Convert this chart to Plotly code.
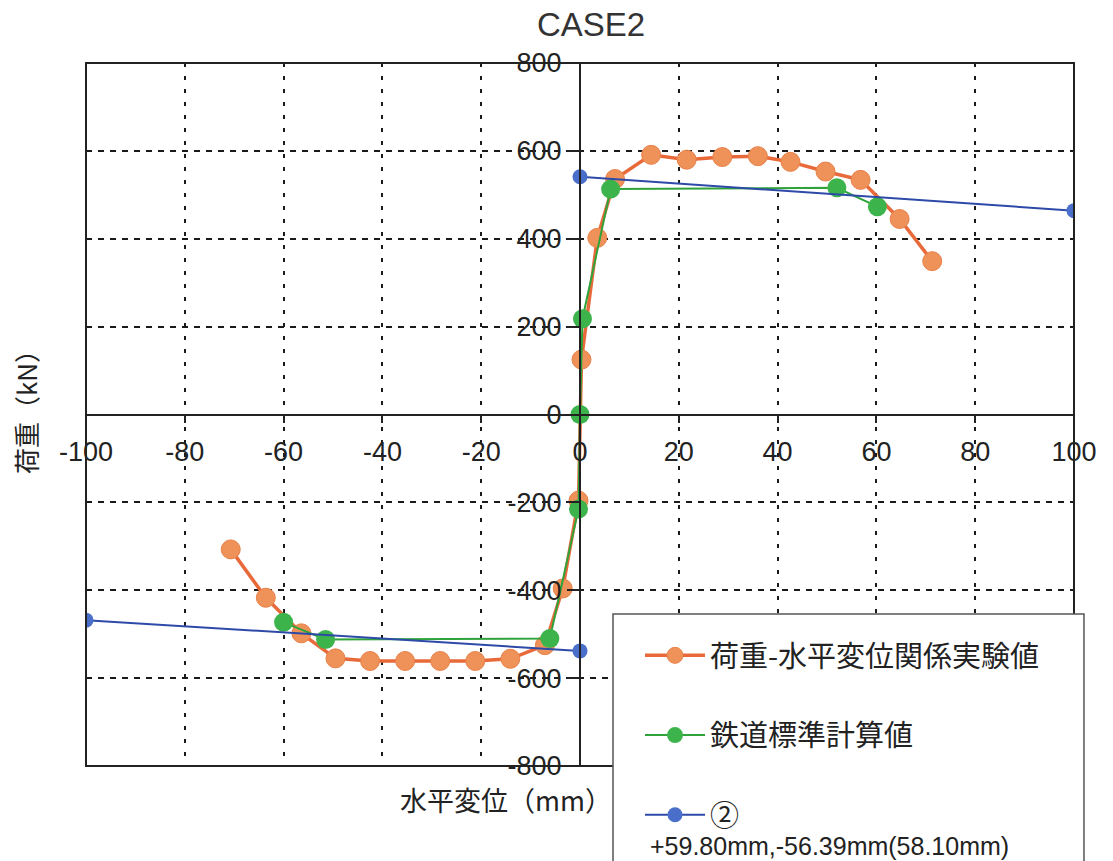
import plotly.graph_objects as go

# Horizontal displacement (mm) vs load (kN)
exp_x = [-70.7, -63.6, -56.4, -49.5, -42.5, -35.4, -28.3, -21.2, -14.1, -7.1, -3.5, -0.3,
         0.3, 3.5, 7.1, 14.4, 21.6, 28.8, 36.0, 42.6, 49.7, 56.8, 64.7, 71.3]
exp_y = [-307, -417, -498, -555, -561, -561, -561, -561, -556, -525, -396, -196,
         125, 402, 536, 591, 580, 586, 588, 575, 553, 534, 445, 349]

rail_x = [-60.0, -51.5, -6.1, -0.3, 0.0, 0.5, 6.2, 52.0, 60.2]
rail_y = [-473, -512, -510, -215, 0, 218, 513, 516, 473]

case_x = [-100, 0, None, 0, 100]
case_y = [-468, -538, None, 541, 464]

x_ticks = [-100, -80, -60, -40, -20, 0, 20, 40, 60, 80, 100]
y_ticks = [-800, -600, -400, -200, 0, 200, 400, 600, 800]

name_exp = "荷重-水平変位関係実験値"
name_rail = "鉄道標準計算値"
name_case = "②"
case_note = "+59.80mm,-56.39mm(58.10mm)"

CJK = "Noto Sans CJK JP"
SANS = "Liberation Sans"
INK = "#222222"

fig = go.Figure()
fig.add_trace(go.Scatter(
    x=exp_x, y=exp_y, mode="lines+markers", name=name_exp, legendgroup="a",
    line=dict(color="#E8693A", width=3.5),
    marker=dict(color="#EF9259", size=19, line=dict(color="#E88148", width=1)),
))
fig.add_trace(go.Scatter(
    x=rail_x, y=rail_y, mode="lines+markers", name=name_rail, legendgroup="b",
    line=dict(color="#2FA33A", width=2),
    marker=dict(color="#3DB34C", size=19),
))
fig.add_trace(go.Scatter(
    x=case_x, y=case_y, mode="lines+markers", name=name_case, legendgroup="c",
    line=dict(color="#2D4AA8", width=2),
    marker=dict(color="#4A6FCB", size=15),
    connectgaps=False,
))

fig.update_xaxes(
    range=[-100, 100], tickvals=x_ticks, ticktext=[str(v) for v in x_ticks],
    anchor="free", position=0.5, showline=True, linecolor=INK, linewidth=2,
    ticks="outside", ticklen=7, tickwidth=2, tickcolor=INK,
    ticklabelstandoff=6,
    tickfont=dict(family=SANS, size=27, color=INK),
    showgrid=True, gridcolor="#1a1a1a", gridwidth=2, griddash="4px,9px",
    zeroline=False,
)
fig.update_yaxes(
    range=[-800, 800], tickvals=y_ticks, ticktext=[str(v) for v in y_ticks],
    anchor="free", position=0.5, showline=True, linecolor=INK, linewidth=2,
    ticks="outside", ticklen=12, tickwidth=2, tickcolor=INK,
    tickfont=dict(family=SANS, size=27, color=INK),
    showgrid=True, gridcolor="#1a1a1a", gridwidth=2, griddash="6px,6px",
    zeroline=False,
)

shapes = [
    # plot frame
    dict(type="rect", xref="paper", yref="paper", x0=0, x1=1, y0=0, y1=1,
         line=dict(color=INK, width=2), layer="above"),
    # legend panel
    dict(type="rect", xref="paper", yref="paper", x0=0.5334, x1=1.0101, y0=-0.16, y1=0.2162,
         fillcolor="white", line=dict(color="#555555", width=1.5), layer="above"),
]

annotations = [
    dict(text="水平変位（mm）", xref="paper", yref="paper", x=(506 - 86) / 988, y=-0.048,
         xanchor="center", yanchor="middle", showarrow=False,
         font=dict(family=CJK, size=27, color=INK)),
    dict(text="荷重（kN）", xref="paper", yref="paper", x=-0.061, y=0.513,
         xanchor="center", yanchor="middle", textangle=-90, showarrow=False,
         font=dict(family=CJK, size=26, color=INK)),
    dict(text=case_note, xref="paper", yref="paper", x=(648 - 86) / 988, y=(766 - 846) / 703,
         xanchor="left", yanchor="middle", showarrow=False,
         font=dict(family=SANS, size=25, color=INK)),
]

fig.update_layout(
    width=1113, height=861,
    margin=dict(l=86, r=39, t=63, b=95),
    paper_bgcolor="white", plot_bgcolor="white",
    title=dict(text="CASE2", x=(591 - 86) / 988, xref="paper", xanchor="center",
               y=1 - 24 / 861, yanchor="middle",
               font=dict(family=SANS, size=33, color="#333333")),
    legend=dict(x=(640 - 86) / 988, y=(766 - 630) / 703, xanchor="left", yanchor="top",
                bgcolor="rgba(0,0,0,0)", borderwidth=0, itemwidth=60,
                tracegroupgap=39, font=dict(family=CJK, size=29, color=INK)),
    shapes=shapes,
    annotations=annotations,
    showlegend=True,
)

fig.write_html("out.html")
